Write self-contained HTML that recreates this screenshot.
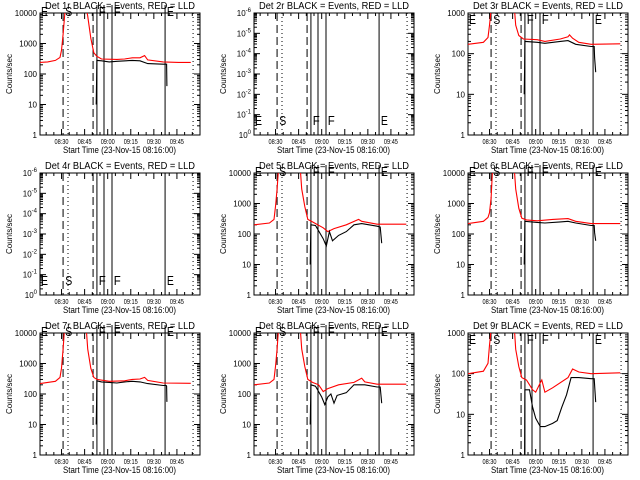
<!DOCTYPE html>
<html><head><meta charset="utf-8"><style>
html,body{margin:0;padding:0;background:#fff}
svg{display:block}
text{font-family:"Liberation Sans",sans-serif;fill:#000}
</style></head><body>
<svg id="chart" width="640" height="480" viewBox="0 0 640 480" xmlns="http://www.w3.org/2000/svg"></svg>
<script>
// Time in minutes since 08:16:00
const xTickLabels = ["08:30","08:45","09:00","09:15","09:30","09:45"];
const xTickMinutes = [14,29,44,59,74,89];
const markerDashed = [15,34.5];
const markerDotted = [18.2,99.5];
const markerSolid = [37,41.6,46.8,81.3];
const letterNames = ["E","S","F","F","E"];
const letterMinutes = [0,15.8,37.5,47.3,81.8];
const panelTitles = ["Det 1r","Det 2r","Det 3r","Det 4r","Det 5r","Det 6r","Det 7r","Det 8r","Det 9r"];
const panelKinds = ["log4","empty","log3","empty","log4","log4","log4","log4","log3"];

const red1T=[0,5,10,13,14,15,16,16.5,30,31,33,35,37,40,50,55,60,65,68,70,80,90,98];
const red1V=[240,250,280,350,600,2000,8000,15000,15000,8000,1500,500,380,310,300,310,340,340,400,290,250,240,240];
const blk1T=[36.5,36.8,37,40,45,50,60,65,70,80,82,82.3,82.5];
const blk1V=[10,60,280,270,250,260,280,270,220,210,210,210,40];
const red3T=[0,10,13,14,15,16,30,31,33,36,45,50,60,65,66,68,72,80,99];
const red3V=[170,190,250,500,1200,1500,1500,500,280,230,220,200,230,260,290,240,190,170,175];
const blk3T=[36.5,36.8,37,45,50,60,65,70,80,82,82.3,83];
const blk3V=[10,40,200,190,180,200,210,170,150,150,80,35];
const red5T=[0,10,13,14,15,16,30,31,33,35,38,45,48,52,60,68,70,80,99];
const red5V=[200,230,300,800,3000,15000,15000,3000,800,300,250,160,120,150,200,300,260,210,210];
const blk5T=[36.5,36.8,37,40,45,47,49,51,55,60,65,70,80,82,83];
const blk5V=[10,60,200,190,70,40,120,60,90,120,200,220,180,170,50];
const red6T=[0,10,13,14,15,16,30,31,33,35,38,45,55,65,70,80,99];
const red6V=[220,260,350,500,1500,15000,15000,3000,700,330,290,270,300,320,260,220,220];
const blk6T=[36.5,36.8,37,45,50,60,65,70,80,82,82.3,83];
const blk6V=[10,50,260,240,230,250,260,230,190,190,110,60];
const red7T=[0,5,10,13,14,15,16,30,31,33,35,37,45,55,60,65,68,70,80,98];
const red7V=[220,240,260,350,700,3000,15000,15000,3000,700,350,300,260,270,300,310,350,280,230,225];
const blk7T=[36.5,36.8,37,40,45,50,55,60,65,70,80,82,82.3,82.5];
const blk7V=[10,50,270,250,240,230,250,260,250,220,190,190,180,55];
const red8T=[0,10,13,14,15,16,30,31,33,35,38,42,45,48,55,65,70,72,80,99];
const red8V=[200,230,300,800,3000,15000,15000,3000,800,300,240,200,120,150,200,240,330,250,210,210];
const blk8T=[36.5,36.8,37,40,44,46,48,50,52,54,60,65,72,80,82,83];
const blk8V=[10,50,200,180,80,45,80,100,50,90,110,200,200,170,170,50];
const red9T=[0,10,13,14,15,16,30,31,33,35,38,42,44,47,48,50,55,65,68,72,80,99];
const red9V=[100,115,180,500,1200,1500,1500,400,150,80,70,40,35,60,70,35,45,80,130,110,100,105];
const blk9T=[36.8,37,40,42,44,47,50,55,58,61,64,67,72,80,82,82.5,83];
const blk9V=[1,40,40,15,8,5,5,6,7,15,30,80,80,75,75,40,20];

const redSeries=[[red1T,red1V],null,[red3T,red3V],null,[red5T,red5V],[red6T,red6V],[red7T,red7V],[red8T,red8V],[red9T,red9V]];
const blkSeries=[[blk1T,blk1V],null,[blk3T,blk3V],null,[blk5T,blk5V],[blk6T,blk6V],[blk7T,blk7V],[blk8T,blk8V],[blk9T,blk9V]];

const NS="http://www.w3.org/2000/svg";
const svg=document.getElementById('chart');
function mk(tag,attrs,parent){const e=document.createElementNS(NS,tag);for(const k in attrs)e.setAttribute(k,attrs[k]);(parent||svg).appendChild(e);return e;}
const lefts=[40,254,468], tops=[13,173,333], W=160, H=122, TMAX=104;

for(let i=0;i<9;i++){
  const L=lefts[i%3], T=tops[Math.floor(i/3)], R=L+W, B=T+H;
  const kind=panelKinds[i];
  const g=mk('g',{});
  
  
  const xs=t=>L+t/TMAX*W;
  const decades=kind==='log4'?4:(kind==='log3'?3:6);
  const ys=v=>{const l=Math.log10(Math.max(v,1e-9));return B-l/decades*H;};
  const cid='clip'+i;
  const cp=mk('clipPath',{id:cid},g);mk('rect',{x:L,y:T,width:W,height:H},cp);
  const tt=mk('text',{x:L+5,y:T-4,'font-size':'10',textLength:150,lengthAdjust:'spacingAndGlyphs'},g);
  tt.textContent=panelTitles[i]+" BLACK = Events, RED = LLD";
  
  
  const fr=mk('rect',{x:L,y:T,width:W,height:H,fill:'none',stroke:'#000','stroke-width':1},g);
  
  
  for(let d=0;d<=decades;d++){
    const y=B-d/decades*H;
    mk('line',{x1:L,x2:L+6,y1:y,y2:y,stroke:'#000'},g);
    mk('line',{x1:R,x2:R-6,y1:y,y2:y,stroke:'#000'},g);
    const lab=mk('text',{x:L-3,y:y+3,'text-anchor':'end','font-size':'8'},g);
    
    
    if(kind==='empty'){lab.textContent='10';const s=mk('tspan',{dy:-4,'font-size':'6'},lab);s.textContent=d===0?'0':'-'+d;}
    else lab.textContent=String(Math.pow(10,d));
    if(d<decades){for(let m=2;m<10;m++){const ym=y-Math.log10(m)/decades*H;
      mk('line',{x1:L,x2:L+3,y1:ym,y2:ym,stroke:'#000'},g);mk('line',{x1:R,x2:R-3,y1:ym,y2:ym,stroke:'#000'},g);}}
  }
  const yl=mk('text',{x:0,y:0,'text-anchor':'middle','font-size':'8',transform:`translate(${L-28},${T+H/2}) rotate(-90)`},g);
  yl.textContent='Counts/sec';
  
  
  for(let t=4;t<TMAX;t+=5){const x=xs(t);const major=xTickMinutes.includes(t);
    mk('line',{x1:x,x2:x,y1:B,y2:B-(major?6:3),stroke:'#000'},g);mk('line',{x1:x,x2:x,y1:T,y2:T+(major?6:3),stroke:'#000'},g);}
  xTickLabels.forEach((s,k)=>{const lb=mk('text',{x:xs(xTickMinutes[k])-7,y:B+9,'font-size':'7',textLength:14,lengthAdjust:'spacingAndGlyphs'},g);lb.textContent=s;
    
    });
  const xl=mk('text',{x:L+23,y:B+18,'font-size':'9',textLength:113,lengthAdjust:'spacingAndGlyphs'},g);
  xl.textContent='Start Time (23-Nov-15 08:16:00)';
  
  
  const mg=mk('g',{'clip-path':`url(#${cid})`},g);
  markerDashed.forEach(t=>{const l=mk('line',{x1:xs(t),x2:xs(t),y1:T,y2:B,stroke:'#000','stroke-dasharray':'8,4'},mg);});
  markerDotted.forEach(t=>{const l=mk('line',{x1:xs(t),x2:xs(t),y1:T,y2:B,stroke:'#000','stroke-dasharray':'1,3'},mg);});
  markerSolid.forEach(t=>{const l=mk('line',{x1:xs(t),x2:xs(t),y1:(kind==='log4'?T-8:T),y2:B,stroke:'#000'},g);});
  letterNames.forEach((s,k)=>{
    let y= kind==='empty'? B-10 : (kind==='log3'? T+11 : T+3);
    const lt=mk('text',{x:xs(letterMinutes[k])+1,y:y,'font-size':'13',textLength:7,lengthAdjust:'spacingAndGlyphs'},g);
    lt.textContent=s;
    
    
  });
  const draw=(sr,col,name)=>{if(!sr)return;const [tA,vA]=sr;let d='';
    for(let k=0;k<tA.length;k++){const x=xs(tA[k]),y=ys(vA[k]);d+=(k?'L':'M')+x.toFixed(1)+','+y.toFixed(1);}
    const p=mk('path',{d:d,fill:'none',stroke:col,'stroke-width':1.1,'clip-path':`url(#${cid})`},g);
    
    };
  draw(redSeries[i],'#ff0000','lld-series');
  draw(blkSeries[i],'#000000','events-series');
}
</script>
</body></html>
